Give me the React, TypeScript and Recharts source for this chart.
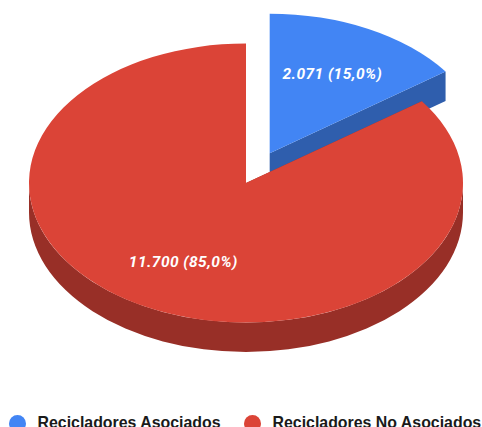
import React from "react";
import { PieChart, Pie, Legend } from "recharts";

const categories = ["Recicladores Asociados", "Recicladores No Asociados"];
const values = [2071, 11700];
const valueLabels = ["2.071 (15,0%)", "11.700 (85,0%)"];
const colors = ["#4285F4", "#DB4437"];
const sideColors = ["#2F5EAD", "#982F27"];
const explode = [0.24, 0];

const tableData = categories.map((name, i) => ({
  name,
  value: values[i],
  fill: colors[i],
  side: sideColors[i],
  explode: explode[i],
  text: valueLabels[i],
}));

const WIDTH = 482;
const HEIGHT = 427;
const CX = 246;
const CY = 183;
const RX = 217;
const TILT = 139.5 / 217;
const DEPTH = 29.5;
const LABEL_RATIO = 0.635;
const rad = (d: number) => (d * Math.PI) / 180;

function geometry(p: any) {
  const mid = (p.startAngle + p.endAngle) / 2;
  const R = p.outerRadius;
  const off = p.payload?.explode ?? p.explode ?? 0;
  const cx = p.cx + R * off * Math.cos(rad(mid));
  const cy = p.cy - R * TILT * off * Math.sin(rad(mid));
  const pt = (a: number, r = R) => [cx + r * Math.cos(rad(a)), cy - r * TILT * Math.sin(rad(a))];
  return { mid, R, cx, cy, pt };
}

function Sector3D(p: any) {
  const { R, cx, cy, pt } = geometry(p);
  const ry = R * TILT;
  const fill = p.payload?.fill ?? p.fill;
  const side = p.payload?.side ?? p.side;
  const s = pt(p.startAngle);
  const e = pt(p.endAngle);
  const large = Math.abs(p.startAngle - p.endAngle) > 180 ? 1 : 0;
  const top = `M${cx},${cy} L${s[0]},${s[1]} A${R},${ry} 0 ${large} 1 ${e[0]},${e[1]} Z`;
  const quad = (q: number[]) =>
    `M${cx},${cy} L${q[0]},${q[1]} L${q[0]},${q[1] + DEPTH} L${cx},${cy + DEPTH} Z`;
  const hi = Math.max(p.startAngle, p.endAngle);
  const lo = Math.min(p.startAngle, p.endAngle);
  const showFront = lo < 0 && hi > -180;
  const a0 = Math.min(hi, 0);
  const a1 = Math.max(lo, -180);
  const f0 = pt(a0);
  const f1 = pt(a1);
  const front = `M${f0[0]},${f0[1]} A${R},${ry} 0 0 1 ${f1[0]},${f1[1]} L${f1[0]},${f1[1] + DEPTH} A${R},${ry} 0 0 0 ${f0[0]},${f0[1] + DEPTH} Z`;
  return (
    <g>
      <path d={quad(s)} fill={side} />
      <path d={quad(e)} fill={side} />
      {showFront && <path d={front} fill={side} />}
      <path d={top} fill={fill} />
    </g>
  );
}

function SliceLabel(p: any) {
  const { mid, pt } = geometry(p);
  const [x, y] = pt(mid, p.outerRadius * LABEL_RATIO);
  return (
    <text
      x={x}
      y={y}
      fill="#fff"
      textAnchor="middle"
      dominantBaseline="central"
      style={{ fontFamily: "Roboto", fontWeight: 700, fontStyle: "italic", fontSize: 15.5, letterSpacing: 0.45 }}
    >
      {p.payload?.text ?? p.text}
    </text>
  );
}

function LegendBox(props: any) {
  const items = props.payload ?? [];
  return (
    <div style={{ position: "relative", height: 30, width: WIDTH }}>
      {items.map((it: any, i: number) => (
        <div
          key={it.value}
          style={{
            position: "absolute",
            left: i === 0 ? 8.5 : 243.5,
            top: 0,
            display: "flex",
            alignItems: "center",
            whiteSpace: "nowrap",
            height: 30,
          }}
        >
          <span
            style={{
              width: 17,
              height: 17,
              borderRadius: "50%",
              background: it.color,
              marginRight: 12,
              flex: "none",
            }}
          />
          <span
            style={{
              fontFamily: "Liberation Sans",
              fontWeight: 700,
              fontSize: 15.9,
              color: "#1a1a1a",
            }}
          >
            {it.value}
          </span>
        </div>
      ))}
    </div>
  );
}

export default function App() {
  return (
    <div style={{ position: "absolute", left: 0, top: 0, width: WIDTH, height: HEIGHT, overflow: "hidden" }}>
      <PieChart width={WIDTH} height={HEIGHT} margin={{ top: 0, right: 0, bottom: 0, left: 0 }}>
        <Pie
          data={tableData}
          dataKey="value"
          nameKey="name"
          cx={CX}
          cy={CY}
          innerRadius={0}
          outerRadius={RX}
          startAngle={90}
          endAngle={-270}
          stroke="none"
          isAnimationActive={false}
          labelLine={false}
          label={SliceLabel}
          shape={Sector3D}
        />
        <Legend
          content={LegendBox}
          wrapperStyle={{ position: "absolute", left: 0, top: 408, width: WIDTH, height: 30 }}
        />
      </PieChart>
    </div>
  );
}
